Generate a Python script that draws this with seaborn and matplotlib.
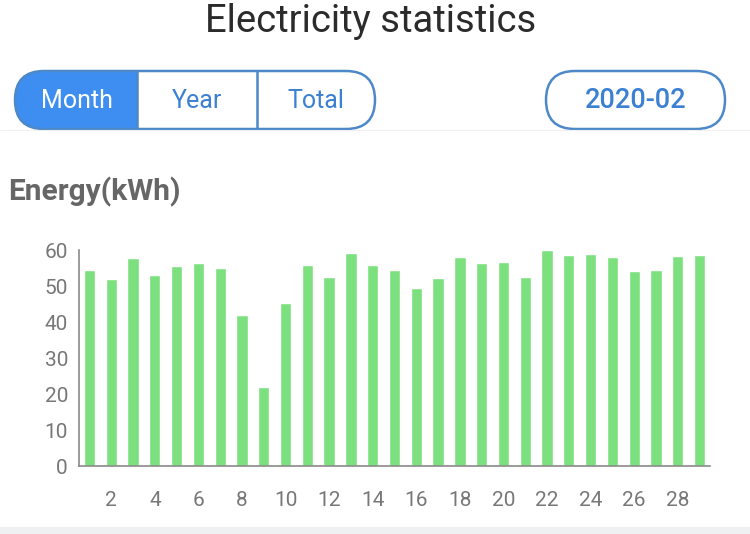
import matplotlib
matplotlib.use("Agg")
import matplotlib.pyplot as plt
import seaborn as sns
import pandas as pd
from matplotlib.patches import FancyBboxPatch, Rectangle

days = list(range(1, 30))
energy = [54.7, 52.2, 57.8, 53.1, 55.7, 56.5, 55.1, 42.0, 22.0, 45.3,
          55.9, 52.7, 59.2, 55.9, 54.7, 49.5, 52.4, 58.2, 56.6, 56.9,
          52.7, 60.3, 58.9, 59.0, 58.3, 54.3, 54.6, 58.5, 58.8]
tick_days = list(range(2, 29, 2))
yticks = [0, 10, 20, 30, 40, 50, 60]
tabs = ["Month", "Year", "Total"]
period = "2020-02"

sns.set_theme(style="white")
plt.rcParams["font.family"] = ["Roboto", "DejaVu Sans"]

df = pd.DataFrame({"day": days, "energy": energy})
bar_color = "#7ce07f"
blue = "#3d8ef0"
edge_blue = "#4d88c9"
text_blue = "#3b80d2"
grey = "#777777"

fig = plt.figure(figsize=(7.5, 5.34), dpi=100)
W, H = 750, 534
ax = fig.add_axes([79 / W, 1 - 466 / H, (710 - 79) / W, (466 - 249.5) / H])
sns.barplot(data=df, x="day", y="energy", native_scale=True, color=bar_color,
            width=0.52, saturation=1, ax=ax)
ax.set_xlim(0.52, 29.48)
ax.set_ylim(0, 60.3)
ax.set_xticks(tick_days)
ax.set_xticklabels([str(d) for d in tick_days])
ax.set_yticks(yticks)
ax.set_xlabel("")
ax.set_ylabel("")
ax.tick_params(axis="both", length=0, labelsize=15, colors=grey)
ax.tick_params(axis="x", pad=18)
ax.tick_params(axis="y", pad=8)
for s in ["top", "right"]:
    ax.spines[s].set_visible(False)
for s in ["left", "bottom"]:
    ax.spines[s].set_color("#8a8a8a")
    ax.spines[s].set_linewidth(1.2)

# overlay in pixel coordinates for header widgets
ov = fig.add_axes([0, 0, 1, 1], zorder=-1)
ov.set_xlim(0, W)
ov.set_ylim(H, 0)
ov.axis("off")

fig.text(371 / W, 1 - 22 / H, "Electricity statistics", ha="center", va="center",
         fontsize=27.5, color="#2b2b2b")

# segmented control
clip = Rectangle((0, 0), 137, 200, transform=ov.transData, visible=False)
ov.add_patch(clip)
fill = FancyBboxPatch((15, 71), 360, 58, boxstyle="round,pad=0,rounding_size=29",
                      facecolor=blue, edgecolor="none")
ov.add_patch(fill)
fill.set_clip_path(clip)
ov.add_patch(FancyBboxPatch((15, 71), 360, 58, boxstyle="round,pad=0,rounding_size=29",
                            facecolor="none", edgecolor=edge_blue, linewidth=1.8))
for xd in [137, 257]:
    ov.plot([xd, xd], [71, 129], color=edge_blue, linewidth=1.8)
for label, xc in zip(tabs, [77, 197, 316]):
    ov.text(xc, 101, label, ha="center", va="center", fontsize=18,
            color="white" if label == "Month" else text_blue)

ov.add_patch(FancyBboxPatch((546, 71), 179, 58, boxstyle="round,pad=0,rounding_size=29",
                            facecolor="none", edgecolor=edge_blue, linewidth=1.8))
ov.text(636, 101, period, ha="center", va="center", fontsize=19.5,
        fontweight="medium", color=text_blue)

ov.plot([0, W], [130, 130], color="#f0f0f0", linewidth=0.8)
ov.add_patch(Rectangle((0, 527), W, 7, facecolor="#eef0f2", edgecolor="none"))

ov.text(8, 192, "Energy(kWh)", ha="left", va="center", fontsize=21.5,
        fontweight="semibold", color="#666666")

fig.savefig("out.png", dpi=100)
